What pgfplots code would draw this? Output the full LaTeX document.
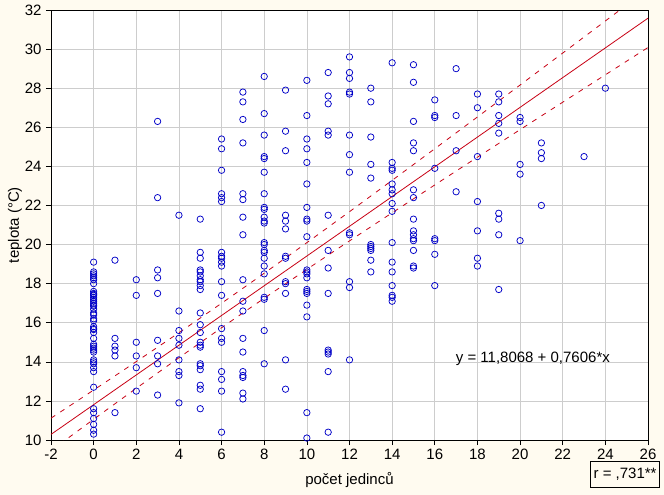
\documentclass[border=0pt]{standalone}
\usepackage{pgfplots}
\pgfplotsset{compat=1.18}
\usepackage{fontspec}
\setmainfont{Liberation Sans}
\definecolor{bgcream}{RGB}{255,251,240}
\definecolor{ptblue}{RGB}{0,0,200}
\definecolor{regred}{RGB}{200,0,20}
\definecolor{gridgray}{RGB}{205,205,205}
\begin{document}
\begin{tikzpicture}
\path[use as bounding box, fill=bgcream] (-51bp,-55bp) rectangle (613bp,440bp);
\begin{axis}[
  name=ax,
  scale only axis, width=597bp, height=430bp,
  xmin=-2, xmax=26, ymin=10, ymax=32,
  xtick={-2,0,...,26}, ytick={10,12,...,32},
  grid=major, major grid style={draw=gridgray, line width=0.6bp},
  axis background/.style={fill=white},
  tick align=outside, xtick pos=left, ytick pos=left, major tick length=5bp,
  tick style={black, line width=0.6bp},
  axis line style={black, line width=0.8bp},
  /pgf/number format/assume math mode=true,
  ticklabel style={font=\fontsize{15bp}{17bp}\selectfont},
  xticklabel style={yshift=-1bp},
  yticklabel style={xshift=-1bp},
  label style={font=\fontsize{15bp}{17bp}\selectfont},
  xlabel={počet jedinců}, ylabel={teplota (°C)},
  xlabel style={at={(axis description cs:0.5,-0.093)}, anchor=center},
  ylabel style={at={(axis description cs:-0.0603,0.5)}, anchor=center},
]
\addplot[only marks, mark=o, mark size=3.2bp, mark options={draw=ptblue, line width=0.75bp}] table {
x y
0 19.1
0 18.6
0 18.5
0 18.4
0 18.3
0 18.2
0 18.0
0 17.6
0 17.5
0 17.45
0 17.4
0 17.3
0 17.2
0 17.1
0 17.0
0 16.9
0 16.85
0 16.7
0 16.5
0 16.4
0 16.2
0 16.1
0 15.8
0 15.7
0 15.65
0 15.5
0 15.2
0 14.9
0 14.8
0 14.7
0 14.6
0 14.5
0 14.1
0 14.0
0 13.9
0 13.7
0 13.5
0 12.7
0 11.6
0 11.4
0 11.1
0 10.8
0 10.5
0 10.3
1 19.2
1 15.2
1 14.8
1 14.6
1 14.3
1 11.4
2 18.2
2 17.4
2 15.0
2 14.3
2 13.7
2 12.5
3 26.3
3 22.4
3 18.7
3 18.3
3 17.5
3 15.1
3 14.3
3 13.9
3 12.3
4 21.5
4 16.6
4 15.6
4 15.2
4 14.85
4 14.1
4 13.5
4 13.3
4 11.9
5 21.3
5 19.6
5 19.3
5 18.7
5 18.6
5 18.4
5 18.2
5 18.1
5 17.9
5 17.7
5 16.5
5 15.9
5 15.5
5 15.0
5 14.85
5 14.75
5 13.9
5 13.8
5 13.6
5 12.8
5 12.6
5 11.6
6 25.4
6 24.9
6 23.8
6 22.6
6 22.4
6 22.2
6 19.6
6 19.4
6 19.3
6 19.1
6 18.9
6 18.1
6 17.4
6 15.7
6 15.2
6 15.0
6 13.5
6 13.1
6 12.5
6 10.4
7 27.8
7 27.3
7 26.4
7 25.2
7 22.6
7 22.3
7 21.4
7 20.5
7 18.2
7 17.1
7 16.6
7 15.2
7 14.5
7 13.5
7 13.3
7 13.2
7 12.4
7 12.1
8 28.6
8 26.7
8 25.6
8 24.5
8 24.4
8 23.7
8 22.6
8 21.9
8 21.8
8 21.4
8 21.2
8 21.1
8 20.1
8 20.0
8 19.7
8 19.6
8 19.3
8 18.9
8 18.5
8 17.3
8 17.2
8 15.6
8 13.9
9 27.9
9 25.8
9 24.8
9 21.5
9 21.2
9 20.8
9 19.4
9 19.3
9 18.1
9 18.0
9 17.5
9 14.1
9 12.6
10 28.4
10 26.6
10 25.4
10 24.9
10 24.2
10 23.1
10 21.9
10 21.3
10 21.2
10 20.4
10 18.7
10 18.6
10 18.5
10 18.3
10 17.7
10 17.6
10 17.5
10 16.9
10 16.3
10 11.4
10 10.1
11 28.8
11 27.6
11 27.2
11 25.8
11 25.6
11 21.5
11 19.7
11 18.8
11 17.5
11 14.6
11 14.5
11 14.4
11 13.5
11 10.4
12 29.6
12 28.8
12 28.5
12 27.8
12 27.7
12 25.6
12 24.6
12 23.7
12 20.6
12 20.5
12 18.1
12 17.8
12 14.1
13 28.0
13 27.3
13 25.5
13 24.1
13 23.4
13 20.0
13 19.9
13 19.8
13 19.7
13 19.2
13 18.6
14 29.3
14 24.2
14 23.9
14 23.8
14 23.1
14 22.8
14 22.6
14 22.1
14 21.7
14 20.1
14 19.1
14 18.6
14 17.9
14 17.4
14 17.3
14 17.1
15 29.2
15 28.3
15 26.3
15 25.2
15 24.8
15 22.8
15 22.4
15 21.3
15 20.7
15 20.5
15 20.3
15 20.2
15 19.7
15 18.9
15 18.8
16 27.4
16 26.6
16 26.5
16 23.9
16 20.3
16 20.2
16 19.5
16 17.9
17 29.0
17 26.6
17 24.8
17 22.7
18 27.7
18 27.0
18 24.5
18 22.2
18 20.7
18 19.3
18 18.9
19 27.7
19 27.3
19 26.6
19 26.2
19 25.7
19 21.6
19 21.3
19 20.5
19 17.7
20 26.5
20 26.3
20 24.1
20 23.6
20 20.2
21 25.2
21 24.7
21 24.4
21 22.0
23 24.5
24 28.0
};
\addplot[regred, line width=0.8bp] coordinates {(-2,10.286) (26,31.582)};
\addplot[regred, line width=0.8bp, dash pattern=on 5bp off 6bp, smooth] coordinates {
(-2,11.117) (0,12.555) (2,14.012) (4,15.490) (6,16.997) (8,18.533) (10,20.097) (12,21.682) (14,23.286) (16,24.902) (18,26.528) (20,28.160) (22,29.797) (24,31.438) (26,33.082)};
\addplot[regred, line width=0.8bp, dash pattern=on 5bp off 6bp, smooth] coordinates {
(-2,9.455) (0,11.059) (2,12.644) (4,14.208) (6,15.743) (8,17.251) (10,18.729) (12,20.186) (14,21.624) (16,23.050) (18,24.468) (20,25.878) (22,27.283) (24,28.684) (26,30.082)};
\node[font=\fontsize{15bp}{17bp}\selectfont] at (axis cs:20.6,14.15) {y = 11,8068 + 0,7606*x};
\end{axis}
\node[draw=black, line width=0.8bp, fill=bgcream, anchor=south east, minimum width=69bp, minimum height=26bp, inner sep=2bp, font=\fontsize{15bp}{17bp}\selectfont] at ([xshift=12bp,yshift=-48bp]ax.south east) {r = ,731**};
\end{tikzpicture}
\end{document}
